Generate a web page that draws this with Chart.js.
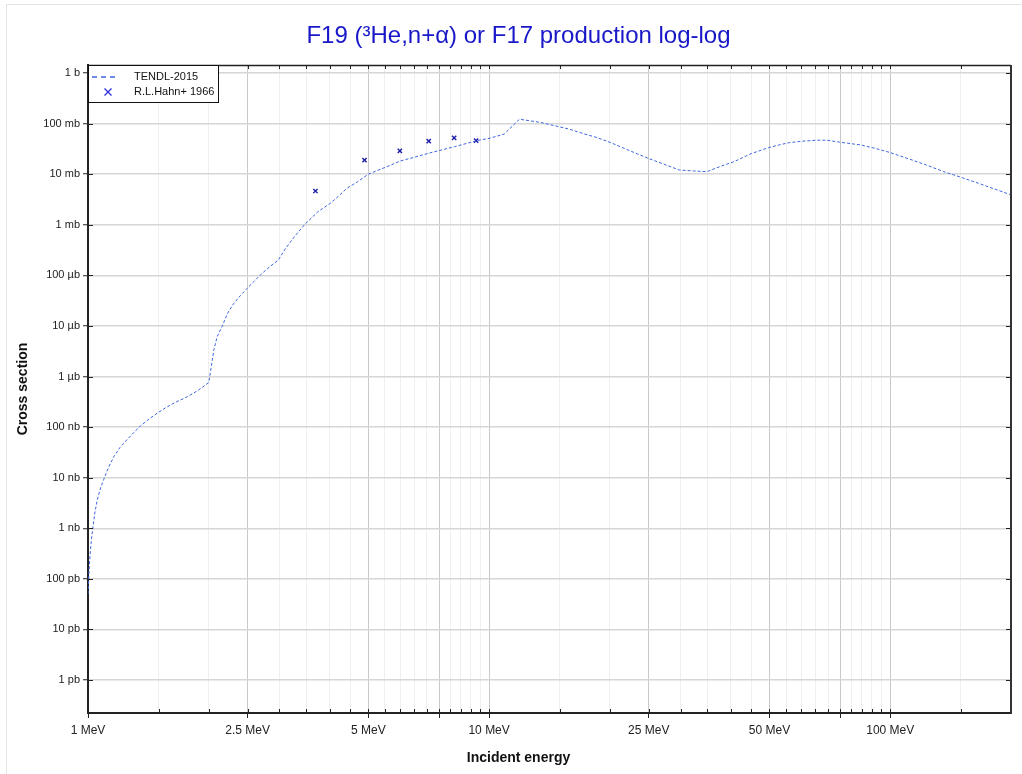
<!DOCTYPE html>
<html>
<head>
<meta charset="utf-8">
<title>F19 (3He,n+a) or F17 production</title>
<script src="https://cdn.jsdelivr.net/npm/chart.js"></script>
<style>
  html, body { margin: 0; padding: 0; background: #fff; }
</style>
</head>
<body>
<canvas id="xsChart" width="1022" height="774"></canvas>
<script>
const titleText = 'F19 (³He,n+α) or F17 production log-log';

// TENDL-2015 evaluation: incident energy (MeV) / cross section (b)
const tendlEnergy = [1.0, 1.003, 1.006, 1.012, 1.02, 1.028, 1.04, 1.054, 1.075, 1.095,
  1.125, 1.16, 1.2, 1.25, 1.3, 1.35, 1.42, 1.49, 1.56, 1.64, 1.77, 1.88, 2.0,
  2.03, 2.06, 2.1, 2.16, 2.23, 2.31, 2.4, 2.49, 2.59, 2.69, 2.83, 2.98,
  3.11, 3.28, 3.48, 3.74, 4.02, 4.2, 4.42, 4.7, 5.0, 5.67, 6.0, 6.5, 7.07, 7.47,
  8.2, 9.33, 10.0, 10.9, 11.9, 13.4, 14.9, 15.9, 17.1, 18.6, 20.1, 22.4, 24.9, 27.6, 29.8, 32.3, 34.9,
  37.5, 40.8, 45, 49.7, 52.8, 56, 60.6, 65.6, 69.6, 74.7, 84.5, 91.5, 99.6, 112, 123, 136, 150, 166, 200];
const tendlXs = [5e-11, 8e-11, 1.4e-10, 3e-10, 6e-10, 1e-9, 2e-9, 3.6e-9, 6.3e-9, 9.3e-9,
  1.6e-8, 2.6e-8, 3.9e-8, 5.6e-8, 7.8e-8, 1.05e-7, 1.45e-7, 1.9e-7, 2.4e-7, 3.0e-7, 4.0e-7, 5.3e-7, 7.6e-7,
  1.6e-6, 3.4e-6, 6.2e-6, 9.8e-6, 1.8e-5, 2.8e-5, 4.0e-5, 5.5e-5, 7.5e-5, 1.02e-4, 1.45e-4, 2.0e-4,
  3.43e-4, 6.0e-4, 1.04e-3, 1.8e-3, 2.66e-3, 3.6e-3, 5.25e-3, 7.1e-3, 1.0e-2, 1.5e-2, 1.82e-2, 2.15e-2, 2.6e-2, 2.9e-2,
  3.5e-2, 4.6e-2, 5.1e-2, 6.2e-2, 1.22e-1, 1.06e-1, 8.7e-2, 7.7e-2, 6.4e-2, 5.27e-2, 4.2e-2, 2.92e-2, 2.06e-2, 1.52e-2, 1.21e-2, 1.16e-2, 1.12e-2,
  1.4e-2, 1.77e-2, 2.55e-2, 3.34e-2, 3.78e-2, 4.2e-2, 4.5e-2, 4.7e-2, 4.68e-2, 4.3e-2, 3.78e-2, 3.25e-2, 2.7e-2, 1.97e-2, 1.52e-2, 1.12e-2, 8.7e-3, 6.6e-3, 3.9e-3];

// R.L.Hahn+ 1966 measurement
const hahnEnergy = [3.69, 4.89, 5.99, 7.07, 8.18, 9.28];
const hahnXs = [4.65e-3, 1.9e-2, 2.9e-2, 4.5e-2, 5.2e-2, 4.6e-2];

// axis ticks
const xTickValues = [1, 1.5, 2, 2.5, 3, 3.5, 4, 4.5, 5, 5.5, 6, 6.5, 7, 7.5, 8, 8.5, 9, 9.5, 10,
  15, 20, 25, 30, 35, 40, 45, 50, 55, 60, 65, 70, 75, 80, 85, 90, 95, 100, 150, 200];
const xMajorValues = [1, 2.5, 5, 7.5, 10, 25, 50, 75, 100];
const xLabelValues = [1, 2.5, 5, 10, 25, 50, 100];
const xLabelTexts = ['1 MeV', '2.5 MeV', '5 MeV', '10 MeV', '25 MeV', '50 MeV', '100 MeV'];
const yTickValues = [1e-12, 1e-11, 1e-10, 1e-9, 1e-8, 1e-7, 1e-6, 1e-5, 1e-4, 1e-3, 1e-2, 1e-1, 1];
const yTickLabels = ['1 pb', '10 pb', '100 pb', '1 nb', '10 nb', '100 nb', '1 µb', '10 µb', '100 µb',
  '1 mb', '10 mb', '100 mb', '1 b'];

const yMin = 2.23e-13, yMax = 1.44;
const lineColor = '#3f66e0';
const markColor = '#1a1aa6';

Chart.defaults.font.family = "'Liberation Sans', Arial, sans-serif";

const isMajorX = (v) => xMajorValues.includes(v);

// outer faint frame, top/right border and the inward tick marks
const framePlugin = {
  id: 'frame',
  beforeDraw(chart) {
    const ctx = chart.ctx;
    ctx.save();
    ctx.strokeStyle = '#e4e4e4';
    ctx.lineWidth = 1;
    ctx.strokeRect(6.5, 4.5, 1040, 800);
    ctx.restore();
  },
  afterDatasetsDraw(chart) {
    const { ctx, chartArea: ca } = chart;
    const xs = chart.scales.x, ys = chart.scales.y;
    ctx.save();
    ctx.strokeStyle = '#222';
    ctx.lineWidth = 1;
    ctx.beginPath();
    xs.ticks.forEach((t) => {
      const px = Math.round(xs.getPixelForValue(t.value)) + 0.5;
      ctx.moveTo(px, ca.bottom); ctx.lineTo(px, ca.bottom - 4);
      ctx.moveTo(px, ca.top); ctx.lineTo(px, ca.top + 4);
    });
    ys.ticks.forEach((t) => {
      const py = Math.round(ys.getPixelForValue(t.value)) + 0.5;
      ctx.moveTo(ca.left, py); ctx.lineTo(ca.left + 5, py);
      ctx.moveTo(ca.right, py); ctx.lineTo(ca.right - 5, py);
    });
    ctx.stroke();
    ctx.lineWidth = 1.5;
    ctx.beginPath();
    ctx.moveTo(ca.left, ca.top + 0.5); ctx.lineTo(ca.right, ca.top + 0.5);
    ctx.stroke();
    ctx.strokeStyle = '#333';
    ctx.lineWidth = 2;
    ctx.beginPath();
    ctx.moveTo(ca.right, ca.top); ctx.lineTo(ca.right, ca.bottom + 1);
    ctx.stroke();
    ctx.restore();
  },
  afterDraw(chart) {
    // legend box in the top-left corner of the plot
    const { ctx, chartArea: ca } = chart;
    const ds = chart.data.datasets;
    const bx = ca.left, by = ca.top, bw = 130, bh = 37;
    ctx.save();
    ctx.fillStyle = '#fff';
    ctx.fillRect(bx, by, bw, bh);
    ctx.strokeStyle = '#111';
    ctx.lineWidth = 1;
    ctx.strokeRect(bx + 0.5, by + 0.5, bw, bh);

    ctx.strokeStyle = ds[0].borderColor;
    ctx.lineWidth = 1.5;
    ctx.setLineDash([5, 4]);
    ctx.beginPath();
    ctx.moveTo(bx + 4, by + 12); ctx.lineTo(bx + 31, by + 12);
    ctx.stroke();
    ctx.setLineDash([]);

    const cx = bx + 20, cy = by + 27, r = 3.5;
    ctx.strokeStyle = '#2a2ad8';
    ctx.lineWidth = 1.2;
    ctx.beginPath();
    ctx.moveTo(cx - r, cy - r); ctx.lineTo(cx + r, cy + r);
    ctx.moveTo(cx - r, cy + r); ctx.lineTo(cx + r, cy - r);
    ctx.stroke();

    ctx.fillStyle = '#111';
    ctx.font = "11px 'Liberation Sans', Arial, sans-serif";
    ctx.textBaseline = 'middle';
    ctx.fillText(ds[0].label, bx + 46, by + 12);
    ctx.fillText(ds[1].label, bx + 46, by + 27);
    ctx.restore();
  }
};

new Chart(document.getElementById('xsChart'), {
  type: 'line',
  data: {
    datasets: [
      {
        label: 'TENDL-2015',
        data: tendlEnergy.map((e, i) => ({ x: e, y: tendlXs[i] })),
        borderColor: lineColor,
        borderWidth: 1,
        borderDash: [3, 2],
        pointRadius: 0,
        tension: 0,
        fill: false
      },
      {
        label: 'R.L.Hahn+ 1966',
        data: hahnEnergy.map((e, i) => ({ x: e, y: hahnXs[i] })),
        showLine: false,
        pointStyle: 'crossRot',
        pointRadius: 3,
        pointBorderWidth: 1.4,
        borderColor: markColor,
        backgroundColor: markColor
      }
    ]
  },
  options: {
    responsive: false,
    animation: false,
    layout: { padding: { left: 15, right: 0, top: 0, bottom: 0 } },
    plugins: {
      legend: { display: false },
      tooltip: { enabled: false },
      title: {
        display: true,
        text: titleText,
        color: '#1818c8',
        font: { size: 24, weight: 'normal' },
        padding: { top: 21.6, bottom: 14.6 }
      },
      subtitle: {
        display: true,
        position: 'bottom',
        text: 'Incident energy',
        color: '#111',
        font: { size: 14, weight: 'bold' },
        padding: { top: 6.6, bottom: 7.6 }
      }
    },
    scales: {
      x: {
        type: 'logarithmic',
        min: 1,
        max: 200,
        afterBuildTicks: (s) => { s.ticks = xTickValues.map((v) => ({ value: v })); },
        afterFit: (s) => { s.height = 30; },
        ticks: {
          autoSkip: false,
          maxRotation: 0,
          padding: 5,
          color: '#222',
          font: { size: 12 },
          callback: (v) => {
            const i = xLabelValues.indexOf(v);
            return i < 0 ? '' : xLabelTexts[i];
          }
        },
        grid: {
          color: (c) => (c.tick && isMajorX(c.tick.value) ? '#c9c9c9' : '#efefef'),
          lineWidth: 1,
          tickLength: 5,
          tickWidth: 1,
          tickColor: (c) => (c.tick && isMajorX(c.tick.value) ? '#222' : 'rgba(0,0,0,0)')
        },
        border: { color: '#222', width: 2 }
      },
      y: {
        type: 'logarithmic',
        min: yMin,
        max: yMax,
        afterBuildTicks: (s) => { s.ticks = yTickValues.map((v) => ({ value: v })); },
        afterFit: (s) => { s.width = 73; },
        ticks: {
          autoSkip: false,
          padding: 3,
          color: '#222',
          font: { size: 11 },
          callback: (v) => yTickLabels[yTickValues.indexOf(v)]
        },
        grid: { color: '#d6d6d6', lineWidth: 1.5, tickLength: 5, tickWidth: 1, tickColor: '#222' },
        border: { color: '#222', width: 2 },
        title: {
          display: true,
          text: 'Cross section',
          color: '#111',
          font: { size: 14, weight: 'bold' },
          padding: { top: 0, bottom: 0 }
        }
      },
      y2: {
        type: 'logarithmic',
        position: 'right',
        min: yMin,
        max: yMax,
        afterFit: (s) => { s.width = 11; },
        ticks: { display: false },
        grid: { display: false, drawTicks: false },
        border: { display: false }
      }
    }
  },
  plugins: [framePlugin]
});
</script>
</body>
</html>
